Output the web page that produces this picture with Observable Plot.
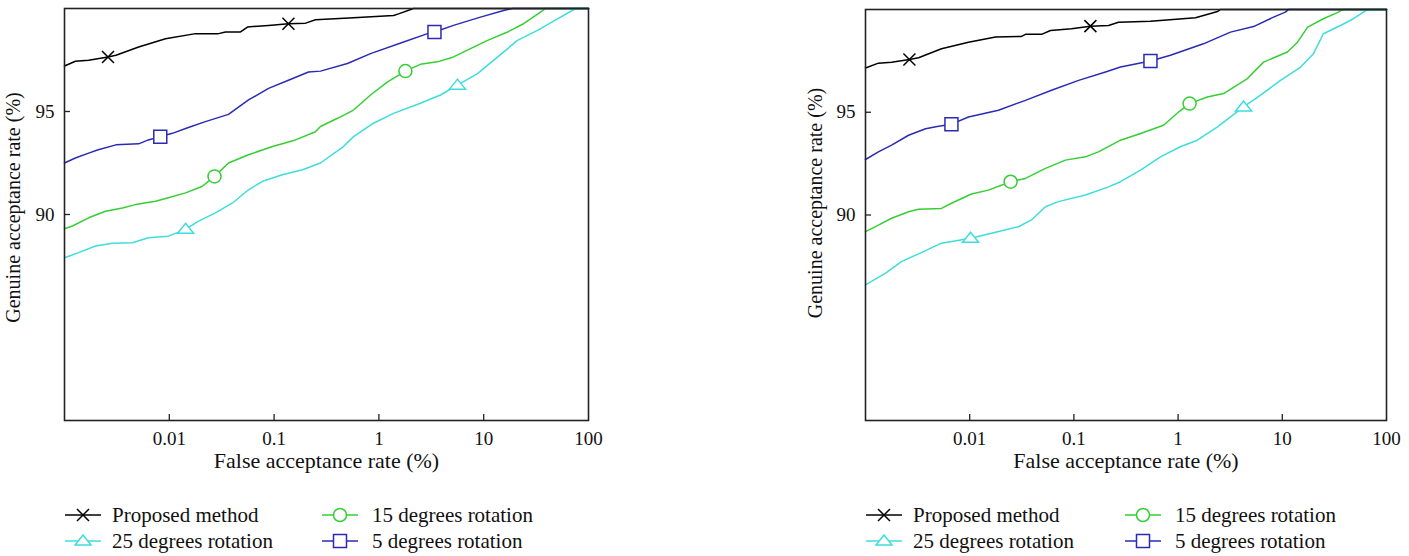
<!DOCTYPE html>
<html><head><meta charset="utf-8">
<script src="https://cdn.jsdelivr.net/npm/d3@7"></script>
<script src="https://cdn.jsdelivr.net/npm/@observablehq/plot@0.6"></script>
<style>
body{margin:0;background:#fff;font-family:"Liberation Serif",serif;}
#wrap{position:relative;width:1409px;height:556px;overflow:hidden;}
.panel{position:absolute;top:0;}
#legend{position:absolute;left:0;top:496px;}
</style></head><body><div id="wrap"></div>
<script>
// ---------- axis ticks ----------
const xTicks = [0.01, 0.1, 1, 10, 100];
const xInnerTicks = [0.01, 0.1, 1, 10];
const yTicks = [90, 95];
const xLabel = "False acceptance rate (%)";
const yLabel = "Genuine acceptance rate (%)";
const seriesNames = ["Proposed method", "25 degrees rotation", "15 degrees rotation", "5 degrees rotation"];
const seriesColors = ["#000000", "#3fdcdc", "#35cf35", "#2a2ab4"];

// ---------- left panel ----------
const L_prop_far = [0.001,0.00127,0.0017,0.0026,0.0031,0.0051,0.0092,0.0178,0.0295,0.0344,0.0478,0.0557,0.0885,0.137,0.2,0.248,0.573,1.38,1.54,2.14,100];
const L_prop_gar = [97.21,97.44,97.49,97.65,97.73,98.13,98.53,98.78,98.78,98.86,98.86,99.1,99.18,99.26,99.29,99.45,99.55,99.66,99.74,100,100];
const L_prop_mk = [0.0026, 0.137];

const L_r5_far = [0.001,0.00127,0.0017,0.0021,0.0031,0.0051,0.0063,0.0082,0.0107,0.0152,0.0221,0.0367,0.057,0.0885,0.137,0.213,0.277,0.501,0.832,1.72,2.91,3.39,5.15,9.31,15.5,18.8,100];
const L_r5_gar = [92.5,92.74,92.98,93.14,93.38,93.43,93.62,93.78,93.94,94.22,94.51,94.86,95.56,96.12,96.52,96.92,96.96,97.33,97.81,98.37,98.78,98.86,99.18,99.58,99.9,100,100];
const L_r5_mk = [0.0082, 3.39];

const L_r15_far = [0.001,0.00119,0.0017,0.00246,0.00357,0.00476,0.00738,0.0098,0.0143,0.0207,0.027,0.0367,0.057,0.0966,0.16,0.248,0.277,0.403,0.573,0.832,1.21,1.79,2.49,3.62,5.15,7.48,10.9,16.9,24,34.8,38.9,100];
const L_r15_gar = [89.31,89.44,89.84,90.16,90.32,90.48,90.64,90.81,91.05,91.37,91.85,92.5,92.9,93.3,93.62,94.02,94.27,94.67,95.07,95.8,96.44,96.96,97.29,97.41,97.65,98.05,98.45,98.86,99.26,99.82,100,100];
const L_r15_mk = [0.027, 1.79];

const L_r25_far = [0.001,0.00136,0.00198,0.00287,0.00446,0.0063,0.0098,0.0143,0.019,0.0276,0.0401,0.057,0.0776,0.12,0.187,0.277,0.459,0.573,0.887,1.38,2.49,3.87,5.62,8.73,13.6,21,32.6,50.6,71.9,78.5,100];
const L_r25_gar = [87.9,88.15,88.47,88.6,88.63,88.87,88.95,89.28,89.68,90.08,90.56,91.2,91.61,91.93,92.17,92.5,93.3,93.78,94.43,94.91,95.4,95.8,96.28,96.84,97.65,98.45,98.94,99.5,99.94,100,100];
const L_r25_mk = [0.0143, 5.62];

// ---------- right panel ----------
const R_prop_far = [0.001,0.00133,0.00178,0.00264,0.00323,0.00536,0.00973,0.0177,0.0314,0.0343,0.0489,0.0596,0.0948,0.144,0.215,0.268,0.543,1.47,2.39,2.55,100];
const R_prop_gar = [97.15,97.39,97.43,97.57,97.65,98.09,98.41,98.66,98.69,98.79,98.79,98.98,99.06,99.19,99.22,99.38,99.43,99.6,99.9,100,100];
const R_prop_mk = [0.00264, 0.144];

const R_r5_far = [0.001,0.00133,0.00178,0.00259,0.00377,0.00503,0.00668,0.00973,0.0189,0.0343,0.061,0.111,0.201,0.28,0.543,0.845,1.75,3.18,5.3,8.24,10.7,11.5,100];
const R_r5_gar = [92.7,93.07,93.4,93.88,94.2,94.32,94.42,94.77,95.1,95.58,96.07,96.55,96.96,97.2,97.49,97.77,98.33,98.9,99.17,99.63,99.87,100,100];
const R_r5_mk = [0.00668, 0.543];

const R_r15_far = [0.001,0.00133,0.00178,0.00259,0.00323,0.00536,0.00668,0.0104,0.0151,0.0247,0.0343,0.0533,0.083,0.129,0.172,0.28,0.436,0.725,1.01,1.29,1.91,2.73,4.63,6.61,11.2,14,17.5,24.8,34.6,37.8,100];
const R_r15_gar = [89.19,89.51,89.84,90.16,90.28,90.32,90.57,91.02,91.21,91.62,91.78,92.27,92.67,92.83,93.07,93.64,93.97,94.37,95.01,95.42,95.74,95.91,96.64,97.44,97.93,98.41,99.14,99.55,99.87,100,100];
const R_r15_mk = [0.0247, 1.29];

const R_r25_far = [0.001,0.00156,0.00221,0.00323,0.00536,0.0102,0.0162,0.0294,0.0392,0.0533,0.0711,0.129,0.215,0.28,0.436,0.678,1.05,1.53,2.39,4.25,6.18,9.62,15,19.9,24.8,36.2,48.2,60.1,65.8,100];
const R_r25_gar = [86.6,87.17,87.73,88.11,88.63,88.87,89.11,89.43,89.76,90.4,90.65,90.97,91.37,91.62,92.18,92.83,93.32,93.64,94.29,95.26,95.83,96.55,97.2,97.85,98.82,99.22,99.55,99.87,100,100];
const R_r25_mk = [0.0102, 4.25];

// ---------- marker shapes ----------
const symTimes = {draw(c){const a=6;c.moveTo(-a,-a);c.lineTo(a,a);c.moveTo(-a,a);c.lineTo(a,-a);}};
const symSquare = {draw(c){const a=6.5;c.moveTo(-a,-a);c.lineTo(a,-a);c.lineTo(a,a);c.lineTo(-a,a);c.closePath();}};
const symCircle = {draw(c){const r=6.5;c.moveTo(r,0);c.arc(0,0,r,0,2*Math.PI);c.closePath();}};
const symTri = {draw(c){c.moveTo(0,-6);c.lineTo(8,4);c.lineTo(-8,4);c.closePath();}};
const seriesSymbols = [symTimes, symTri, symCircle, symSquare];

function makeSeries(list) {
  return list.map(([far, gar, mk], i) => ({
    name: seriesNames[i], color: seriesColors[i], symbol: seriesSymbols[i],
    pts: far.map((f, j) => ({far: f, gar: gar[j]})),
    marks: mk.map(m => ({far: m, gar: gar[far.indexOf(m)]}))
  }));
}

function panel({series, width, marginLeft, marginRight, marginTop, yLabelDx, yLabelDy}) {
  const height = 480, marginBottom = 60;
  const fw = width - marginLeft - marginRight, fh = height - marginTop - marginBottom;
  const marks = [];
  for (const s of [...series].reverse()) {
    marks.push(Plot.line(s.pts, {x: "far", y: "gar", stroke: s.color, strokeWidth: 1.5, curve: "linear"}));
  }
  for (const s of [...series].reverse()) {
    marks.push(Plot.dot(s.marks, {x: "far", y: "gar", symbol: s.symbol, r: 6, stroke: s.color, fill: s.symbol === symTimes ? "none" : "white", strokeWidth: 1.5}));
  }
  marks.push(
    Plot.frame({stroke: "#222", strokeWidth: 1.6}),
    Plot.tickX(xInnerTicks, {x: d => d, stroke: "#222", strokeWidth: 1.3, insetTop: fh - 6}),
    Plot.tickY(yTicks, {y: d => d, stroke: "#222", strokeWidth: 1.3, insetRight: fw - 6}),
    Plot.axisX(xTicks, {tickSize: 0, tickPadding: 11, tickFormat: d => String(d), label: null, fontSize: 19}),
    Plot.axisY(yTicks, {tickSize: 0, tickPadding: 10, tickFormat: d => String(d), label: null, fontSize: 19}),
    Plot.text([xLabel], {frameAnchor: "bottom", dy: 47, text: d => d, fontSize: 22, fill: "#111"}),
    Plot.text([yLabel], {frameAnchor: "left", dx: yLabelDx, dy: yLabelDy, rotate: -90, textAnchor: "middle", text: d => d, fontSize: 20, fill: "#111"})
  );
  return Plot.plot({
    width, height, marginLeft, marginRight, marginTop, marginBottom,
    style: {fontFamily: "Liberation Serif, serif", color: "#111", background: "white", overflow: "visible"},
    x: {type: "log", domain: [0.001, 100]},
    y: {domain: [80, 100]},
    marks
  });
}

const leftSeries = makeSeries([
  [L_prop_far, L_prop_gar, L_prop_mk], [L_r25_far, L_r25_gar, L_r25_mk],
  [L_r15_far, L_r15_gar, L_r15_mk], [L_r5_far, L_r5_gar, L_r5_mk]]);
const rightSeries = makeSeries([
  [R_prop_far, R_prop_gar, R_prop_mk], [R_r25_far, R_r25_gar, R_r25_mk],
  [R_r15_far, R_r15_gar, R_r15_mk], [R_r5_far, R_r5_gar, R_r5_mk]]);

const wrap = document.getElementById("wrap");
const p1 = panel({series: leftSeries, width: 620, marginLeft: 64, marginRight: 32, marginTop: 8, yLabelDx: -51, yLabelDy: -7});
p1.classList.add("panel"); p1.style.left = "0px";
const p2 = panel({series: rightSeries, width: 609, marginLeft: 65, marginRight: 23, marginTop: 9, yLabelDx: -50, yLabelDy: -12});
p2.classList.add("panel"); p2.style.left = "800px";
wrap.append(p1, p2);

// ---------- legends ----------
const leg = d3.select(wrap).append("svg").attr("id", "legend").attr("width", 1409).attr("height", 60);
const legendLayout = [{x0: 65, col2: 322}, {x0: 866, col2: 1125}];
const rowsY = [19, 45];
const legendSlots = [[0, 0, 0], [1, 0, 1], [2, 1, 0], [3, 1, 1]];
const symPath = s => { const p = d3.path(); s.draw(p); return p.toString(); };
for (const L of legendLayout) {
  for (const [si, col, row] of legendSlots) {
    const x = col === 0 ? L.x0 : L.col2, y = rowsY[row];
    const g = leg.append("g");
    g.append("line").attr("x1", x).attr("x2", x + 36).attr("y1", y).attr("y2", y)
      .attr("stroke", seriesColors[si]).attr("stroke-width", 1.5);
    g.append("path").attr("d", symPath(seriesSymbols[si])).attr("transform", `translate(${x + 18},${y})`)
      .attr("stroke", seriesColors[si]).attr("stroke-width", 1.5)
      .attr("fill", si === 0 ? "none" : "white");
    g.append("text").attr("x", x + (col === 0 ? 47 : 50)).attr("y", y).attr("dy", "0.35em")
      .attr("font-family", "Liberation Serif, serif").attr("font-size", 21).attr("fill", "#111")
      .text(seriesNames[si]);
  }
}
</script>
</body></html>
